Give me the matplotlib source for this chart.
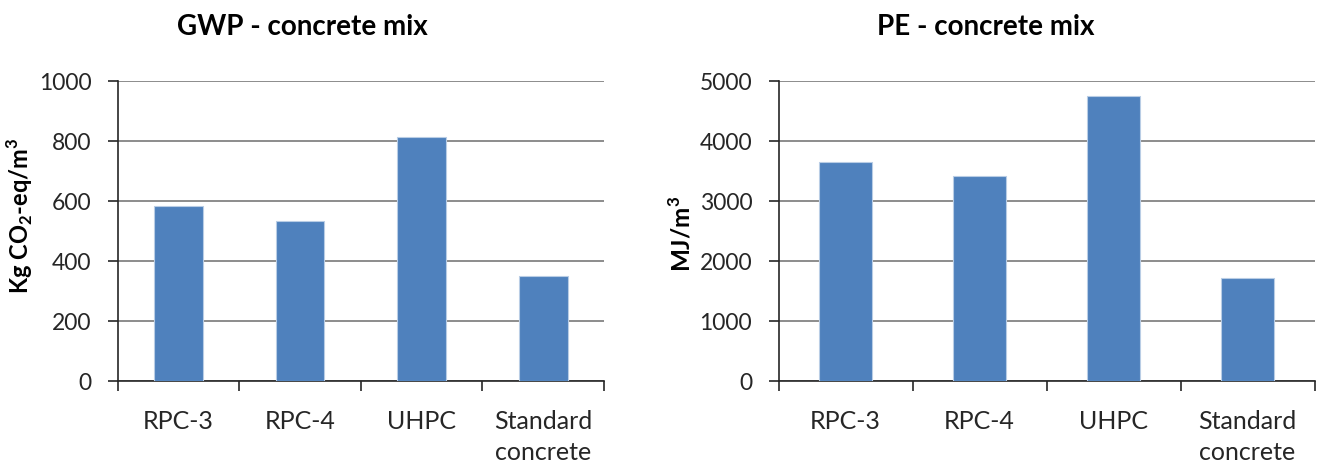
import numpy as np
import matplotlib
matplotlib.use('Agg')
import matplotlib.pyplot as plt

plt.rcParams['font.family'] = ['Lato', 'DejaVu Sans']
plt.rcParams['mathtext.fontset'] = 'custom'
plt.rcParams['mathtext.rm'] = 'Lato'
plt.rcParams['mathtext.bf'] = 'Lato:bold'

# Data
mixes = ['RPC-3', 'RPC-4', 'UHPC', 'Standard\nconcrete']
gwp = [583, 534, 815, 351]        # Kg CO2-eq/m3
pe = [3655, 3422, 4742, 1709]     # MJ/m3

bar_color = '#4F81BD'
grid_color = '#8C8C8C'

fig = plt.figure(figsize=(13.17, 4.66), dpi=100)
ax1 = fig.add_axes([117.7 / 1317, 85 / 466, 486.3 / 1317, 300 / 466])
ax2 = fig.add_axes([778.6 / 1317, 85 / 466, 536 / 1317, 300 / 466])


def style_axis(ax, values, ymax, step, title_x, title):
    x = np.arange(len(mixes))
    ax.bar(x, values, width=0.40, color=bar_color, edgecolor='#B9CDE5',
           linewidth=0.8, zorder=3)
    ax.set_xlim(-0.5, len(mixes) - 0.5)
    ax.set_ylim(0, ymax)
    ax.set_yticks(np.arange(0, ymax + 1, step))
    ax.yaxis.grid(True, color=grid_color, linewidth=1.4, zorder=0)
    ax.set_axisbelow(True)

    # category boundaries carry the tick marks, labels sit in between
    ax.set_xticks(np.arange(-0.5, len(mixes), 1.0))
    ax.set_xticklabels([])
    ax.set_xticks(x, minor=True)
    ax.set_xticklabels(mixes, minor=True, fontsize=18, color='#262626',
                       linespacing=1.42)
    ax.tick_params(axis='x', which='major', direction='out', length=7,
                   width=1.2, color='#262626')
    ax.tick_params(axis='x', which='minor', length=0, pad=21)
    ax.tick_params(axis='y', direction='out', length=7, width=1.2,
                   color='#262626', labelsize=16.5, labelcolor='#262626',
                   pad=12)

    for side in ['top', 'right']:
        ax.spines[side].set_visible(False)
    for side in ['left', 'bottom']:
        ax.spines[side].set_color('#262626')
        ax.spines[side].set_linewidth(1.2)

    fig.text(title_x / 1317, 1 - 35 / 466, title, ha='center', va='baseline',
             fontsize=20, fontweight='bold', color='black')


style_axis(ax1, gwp, 1000, 200, 302, 'GWP - concrete mix')
style_axis(ax2, pe, 5000, 1000, 986, 'PE - concrete mix')

fig.text(20 / 1317, 1 - 216 / 466, r'Kg CO$_\mathbf{2}$-eq/m$^\mathbf{3}$',
         rotation=90, ha='center', va='center', fontsize=17,
         fontweight='bold', color='black')
fig.text(681 / 1317, 1 - 234 / 466, r'MJ/m$^\mathbf{3}$',
         rotation=90, ha='center', va='center', fontsize=17.5,
         fontweight='bold', color='black')

plt.savefig('out.png', dpi=100)
